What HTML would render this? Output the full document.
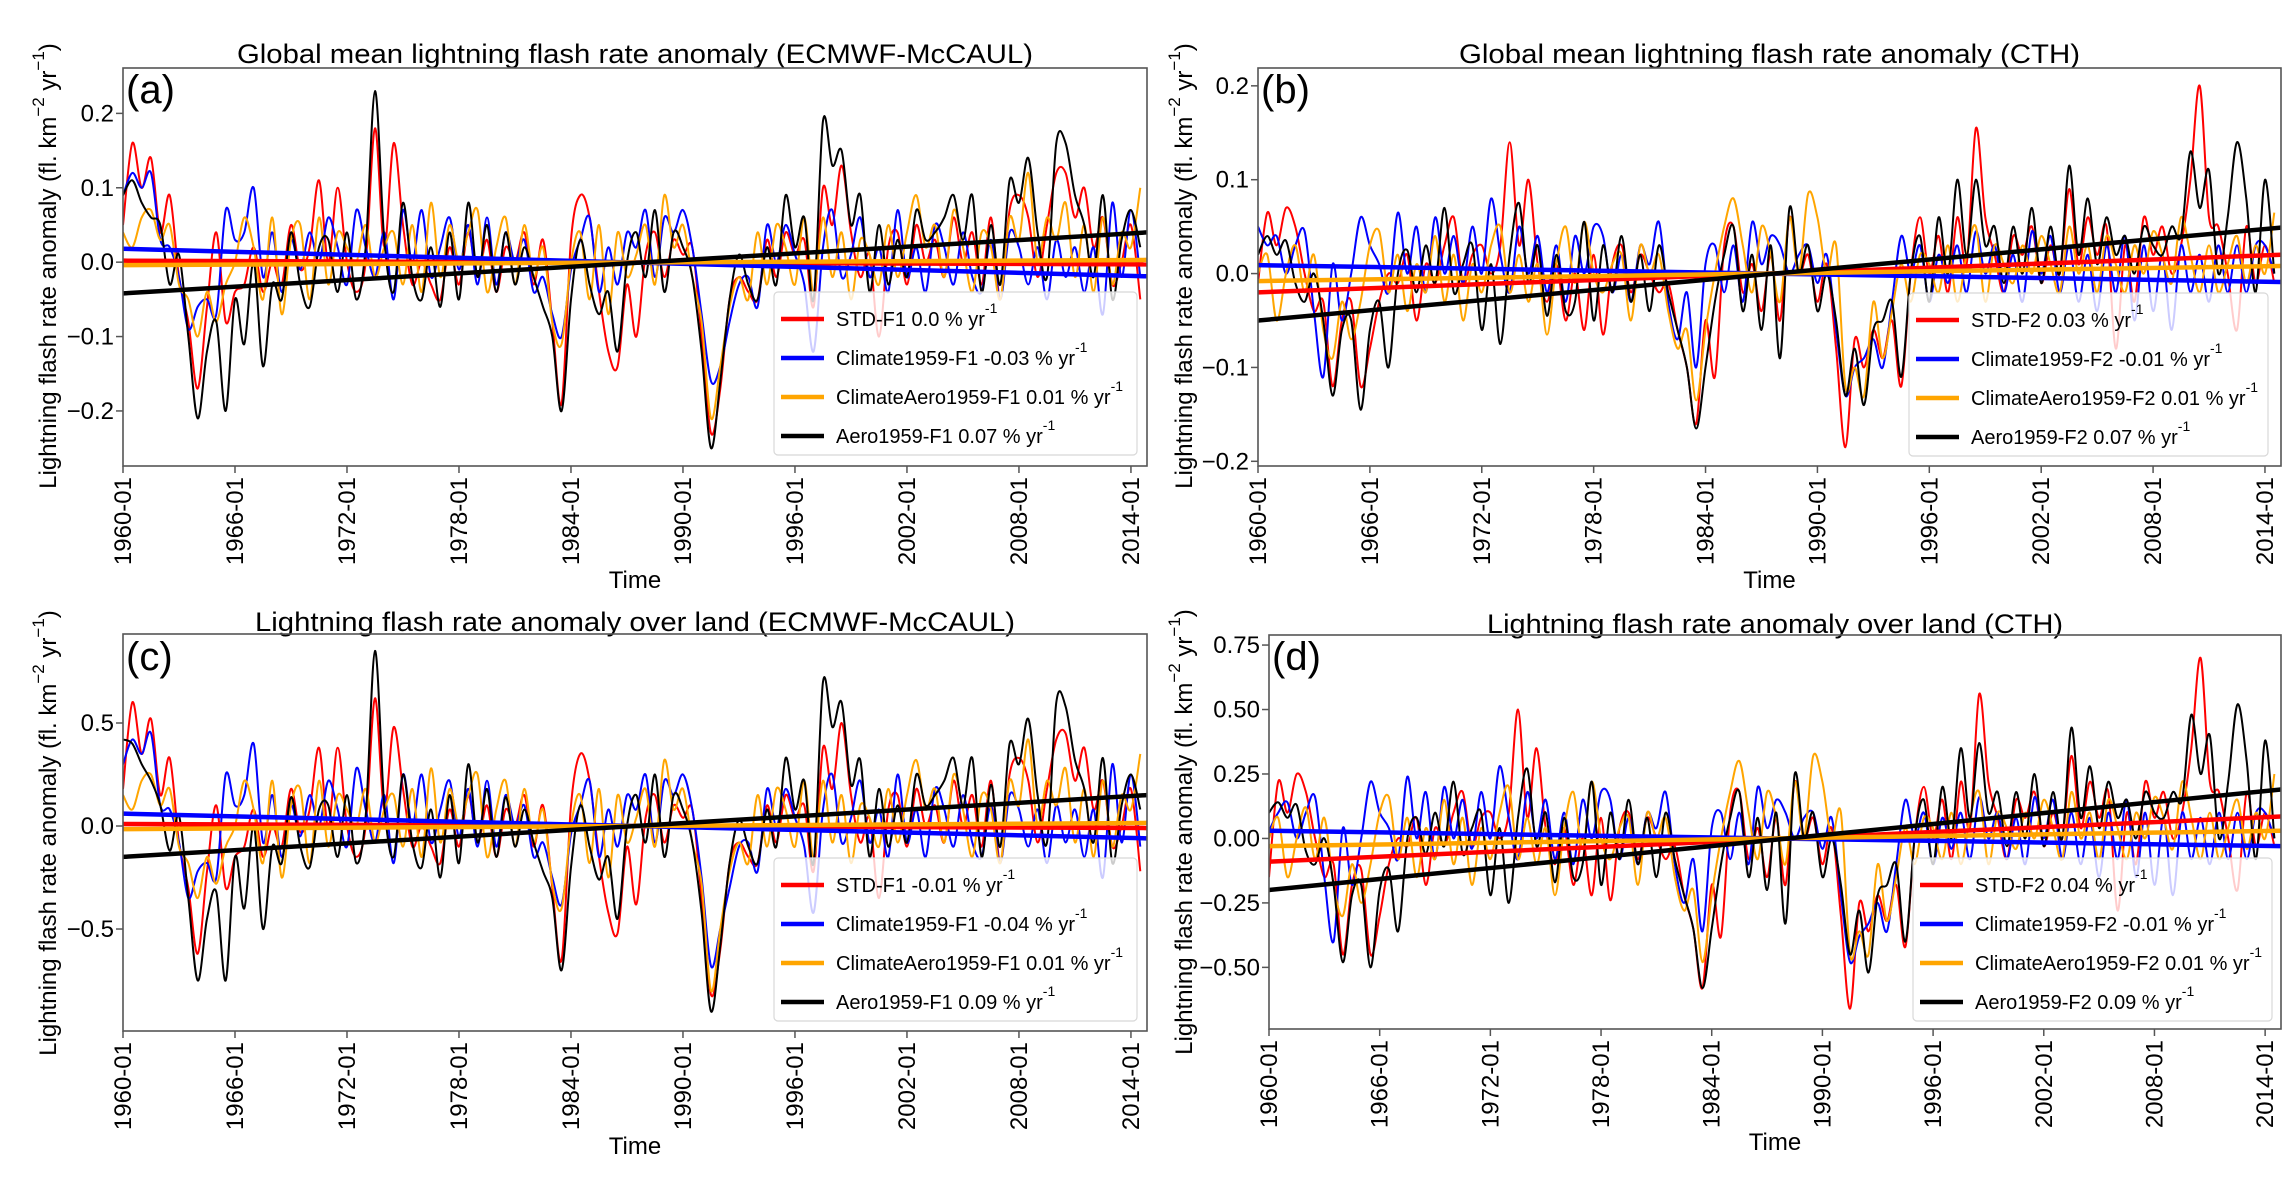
<!DOCTYPE html>
<html><head><meta charset="utf-8"><style>
html,body{margin:0;padding:0;background:#fff;}
svg{display:block;font-family:"Liberation Sans",Arial,sans-serif;}
</style></head><body>
<svg id="fig" width="2296" height="1179" viewBox="0 0 2296 1179" xmlns="http://www.w3.org/2000/svg"></svg>
<script>
const years = ["1960-01","1966-01","1972-01","1978-01","1984-01","1990-01","1996-01","2002-01","2008-01","2014-01"];
const tickYears = [1960,1966,1972,1978,1984,1990,1996,2002,2008,2014];
const seriesNames = ["red","blue","orange","black"];
const colors = ["#ff0000","#0000ff","#ffa500","#000000"];

const aRed = [0.05,0.16,0.10,0.14,0.04,0.09,-0.02,-0.08,-0.17,-0.06,0.04,-0.08,-0.04,-0.03,0.02,-0.04,0.0,-0.03,0.05,-0.01,0.02,0.11,0.0,0.10,0.0,-0.04,0.0,0.18,0.02,0.16,0.05,-0.03,0.0,-0.03,-0.05,0.02,-0.03,0.04,-0.02,0.03,-0.04,0.02,0.0,0.04,-0.03,0.03,-0.08,-0.19,0.03,0.09,0.06,-0.04,-0.12,-0.14,-0.03,-0.10,0.01,0.04,-0.02,0.03,0.01,0.02,-0.10,-0.23,-0.17,-0.05,-0.02,-0.04,-0.05,0.03,-0.02,0.04,0.01,0.03,-0.06,0.10,0.05,0.13,0.04,-0.02,0.01,-0.10,0.02,0.04,-0.03,0.05,0.0,0.03,-0.02,0.06,0.0,0.04,-0.03,0.06,-0.05,0.07,0.09,0.06,-0.02,0.05,0.12,0.12,0.06,0.10,0.02,0.06,-0.03,0.0,0.05,-0.05];
const aBlue = [0.09,0.12,0.10,0.12,0.03,0.02,-0.02,-0.09,-0.06,-0.05,-0.07,0.07,0.03,0.04,0.10,-0.02,0.04,-0.04,0.03,-0.01,0.04,0.0,0.06,0.02,-0.03,0.07,0.02,-0.02,0.04,-0.05,0.07,0.0,0.07,-0.02,0.02,0.06,-0.01,0.05,-0.03,0.06,-0.03,0.04,0.0,0.03,-0.04,-0.02,-0.07,-0.10,-0.01,0.03,0.06,-0.04,0.02,-0.03,0.04,0.02,0.07,-0.02,0.06,0.04,0.07,0.02,-0.07,-0.16,-0.14,-0.08,-0.03,-0.02,-0.06,0.05,0.0,0.05,0.01,-0.03,-0.12,0.02,0.07,-0.02,0.01,0.06,-0.02,0.02,-0.04,0.07,-0.02,0.02,-0.04,0.05,0.02,-0.03,0.04,-0.02,-0.04,0.03,-0.05,0.04,0.02,-0.03,0.02,-0.05,0.03,-0.02,0.02,-0.04,0.02,-0.07,0.08,-0.02,0.07,-0.02];
const aOrange = [0.04,0.02,0.06,0.07,0.03,0.05,-0.03,-0.05,-0.10,-0.04,-0.08,-0.03,0.0,0.06,0.02,-0.05,0.06,-0.07,0.03,0.05,-0.05,0.06,-0.03,0.04,0.02,0.0,0.05,-0.02,0.02,0.04,-0.03,0.05,-0.04,0.08,-0.02,0.05,0.0,0.04,0.07,-0.04,0.02,0.06,-0.03,0.05,-0.02,0.02,-0.08,-0.11,0.0,0.04,-0.05,0.05,-0.07,0.04,-0.02,0.01,0.05,-0.03,0.09,0.02,0.05,-0.02,-0.08,-0.21,-0.14,-0.06,-0.02,-0.05,0.04,-0.03,0.05,0.02,-0.03,0.06,-0.04,0.06,-0.02,0.04,-0.05,0.03,0.01,-0.03,0.05,-0.02,0.04,0.09,0.02,0.05,-0.02,0.07,0.02,-0.04,0.04,0.02,-0.05,0.06,0.03,0.12,0.0,0.06,0.03,0.08,-0.02,0.05,-0.04,0.06,-0.03,0.04,0.02,0.10];
const aBlack = [0.09,0.11,0.08,0.06,0.05,-0.03,0.01,-0.10,-0.21,-0.12,-0.08,-0.20,-0.05,-0.11,0.0,-0.14,-0.03,-0.05,0.04,-0.03,-0.06,0.02,0.03,-0.04,0.04,-0.05,0.02,0.23,0.03,-0.04,0.08,-0.02,-0.05,0.02,-0.06,0.04,-0.05,0.08,-0.02,0.05,-0.04,0.04,-0.03,0.02,-0.02,-0.06,-0.10,-0.20,-0.05,0.03,-0.03,-0.07,-0.04,-0.12,0.0,0.04,-0.02,0.07,-0.04,0.04,0.02,-0.02,-0.12,-0.25,-0.16,-0.05,0.01,-0.03,-0.05,0.02,-0.03,0.09,0.02,0.06,-0.05,0.19,0.13,0.15,0.05,0.09,-0.04,0.05,-0.03,0.03,-0.02,0.07,0.03,0.04,0.06,0.09,0.03,0.09,-0.04,0.05,-0.03,0.11,0.08,0.14,0.04,-0.02,0.16,0.16,0.09,0.05,-0.02,0.09,-0.05,0.03,0.07,0.02];

const bRed = [-0.01,0.065,0.03,0.07,0.05,0.0,-0.04,-0.03,-0.12,-0.05,-0.03,-0.12,-0.08,-0.03,0.0,-0.01,0.02,-0.05,0.01,-0.01,0.03,0.06,-0.01,0.02,0.03,0.0,0.03,0.14,0.03,0.10,0.01,-0.03,0.01,-0.05,0.0,-0.06,0.02,-0.065,0.01,0.03,-0.02,0.02,0.0,-0.02,-0.01,-0.06,-0.10,-0.16,-0.05,-0.11,0.03,0.05,-0.02,0.01,-0.04,0.02,-0.05,0.06,0.0,0.02,-0.03,0.01,-0.08,-0.185,-0.07,-0.10,-0.06,-0.09,-0.05,-0.12,0.0,0.06,0.0,0.04,-0.02,0.06,0.01,0.155,0.06,0.02,-0.02,0.04,0.02,0.05,-0.01,0.03,0.0,0.09,0.01,0.06,0.02,0.05,-0.08,0.03,-0.03,0.06,0.02,0.05,0.0,0.03,0.10,0.20,0.06,0.05,0.0,-0.06,0.05,-0.01,0.03,-0.01];
const bBlue = [0.05,0.03,0.04,0.0,0.03,0.045,-0.04,-0.11,0.01,-0.05,0.0,0.06,0.03,0.01,-0.02,0.065,0.0,0.05,-0.02,0.06,0.0,0.04,-0.01,0.05,0.0,0.08,0.02,-0.02,0.05,0.0,0.04,-0.02,0.03,-0.03,0.04,0.0,0.05,0.04,-0.02,0.02,-0.03,0.03,0.01,0.055,-0.03,-0.07,-0.02,-0.10,0.01,0.03,-0.02,0.03,-0.03,0.055,0.01,0.04,0.03,0.0,0.02,0.03,-0.01,0.02,-0.06,-0.13,-0.10,-0.09,-0.07,-0.10,-0.03,0.04,0.0,0.03,-0.03,0.02,-0.01,0.03,-0.02,0.045,0.0,0.03,-0.02,0.02,-0.03,0.045,0.0,0.04,-0.02,0.03,-0.03,0.02,-0.04,0.03,-0.02,0.04,-0.05,0.03,-0.04,0.02,-0.06,0.03,-0.02,0.02,-0.03,0.03,-0.02,0.03,-0.02,0.03,0.03,0.0];
const bOrange = [0.0,0.02,-0.05,0.0,0.03,-0.02,0.02,-0.06,-0.09,-0.03,-0.07,-0.03,0.03,0.045,-0.02,0.02,-0.04,0.01,-0.02,0.04,-0.03,0.02,-0.05,0.01,-0.02,0.03,0.05,-0.02,0.02,-0.03,0.01,-0.065,0.01,0.05,-0.01,0.055,0.0,-0.02,0.01,0.02,-0.05,0.03,0.0,0.02,-0.04,-0.08,-0.06,-0.135,-0.06,0.0,0.05,0.08,0.03,-0.02,0.05,0.02,-0.03,0.06,0.0,0.085,0.06,0.0,0.03,-0.12,-0.10,-0.13,-0.03,-0.09,-0.04,0.01,-0.03,0.02,0.01,-0.02,0.03,-0.03,0.02,0.05,-0.03,0.03,0.01,-0.01,0.03,0.0,0.04,0.01,-0.02,0.05,0.0,0.03,-0.02,0.04,0.01,-0.02,0.03,0.0,0.045,0.02,-0.01,0.06,0.02,-0.02,0.03,-0.02,0.01,0.04,-0.01,0.03,0.0,0.065];
const bBlack = [0.02,0.04,0.02,0.035,-0.01,-0.03,0.0,-0.05,-0.13,-0.06,-0.05,-0.145,-0.06,-0.03,-0.10,0.0,0.025,-0.02,0.03,-0.01,0.07,-0.02,0.01,0.03,-0.06,0.01,-0.075,0.02,0.075,-0.01,0.03,-0.045,0.02,-0.04,-0.03,0.055,-0.05,0.03,-0.02,0.04,-0.03,0.02,-0.04,0.03,-0.02,-0.06,-0.10,-0.165,-0.10,-0.03,0.02,0.05,-0.04,0.02,-0.06,0.03,-0.09,0.07,0.0,0.03,-0.04,0.0,-0.05,-0.13,-0.08,-0.14,-0.06,-0.05,-0.03,-0.11,0.0,0.04,-0.03,0.06,0.0,0.10,0.02,0.10,0.03,0.05,-0.01,0.05,0.0,0.07,-0.01,0.05,0.0,0.115,0.02,0.08,0.01,0.06,0.02,0.04,0.0,0.05,0.03,0.02,0.05,0.04,0.13,0.07,0.11,0.0,0.06,0.14,0.08,-0.02,0.10,0.0];

const cRed = [0.18,0.60,0.35,0.52,0.15,0.33,-0.08,-0.30,-0.62,-0.22,0.10,-0.30,-0.15,-0.10,0.08,-0.15,0.0,-0.10,0.18,-0.03,0.08,0.38,0.0,0.38,0.0,-0.15,0.0,0.62,0.08,0.48,0.18,-0.10,0.0,-0.10,-0.18,0.08,-0.10,0.15,-0.08,0.10,-0.15,0.08,0.0,0.15,-0.10,0.10,-0.30,-0.65,0.10,0.35,0.22,-0.15,-0.42,-0.52,-0.10,-0.38,0.04,0.15,-0.08,0.10,0.04,0.08,-0.35,-0.82,-0.60,-0.18,-0.08,-0.15,-0.18,0.10,-0.08,0.15,0.04,0.10,-0.22,0.38,0.18,0.50,0.15,-0.08,0.04,-0.35,0.08,0.15,-0.10,0.18,0.0,0.10,-0.08,0.22,0.0,0.15,-0.10,0.22,-0.18,0.25,0.33,0.22,-0.08,0.18,0.42,0.45,0.22,0.38,0.08,0.22,-0.10,0.0,0.18,-0.22];
const cBlue = [0.30,0.42,0.35,0.45,0.10,0.08,-0.08,-0.35,-0.22,-0.18,-0.25,0.25,0.10,0.15,0.40,-0.08,0.15,-0.15,0.10,-0.05,0.15,0.0,0.22,0.08,-0.10,0.28,0.08,-0.08,0.15,-0.18,0.25,0.0,0.25,-0.08,0.08,0.22,-0.05,0.18,-0.10,0.22,-0.10,0.15,0.0,0.10,-0.15,-0.08,-0.25,-0.38,-0.04,0.10,0.22,-0.15,0.08,-0.10,0.15,0.08,0.25,-0.08,0.22,0.15,0.25,0.08,-0.25,-0.68,-0.50,-0.30,-0.10,-0.08,-0.22,0.18,0.0,0.18,0.04,-0.10,-0.42,0.08,0.25,-0.08,0.04,0.22,-0.08,0.08,-0.15,0.25,-0.08,0.08,-0.15,0.18,0.08,-0.10,0.15,-0.08,-0.15,0.10,-0.18,0.15,0.08,-0.10,0.08,-0.18,0.10,-0.08,0.08,-0.15,0.08,-0.25,0.30,-0.08,0.25,-0.10];
const cOrange = [0.15,0.08,0.22,0.25,0.10,0.18,-0.10,-0.18,-0.35,-0.15,-0.28,-0.10,0.0,0.22,0.08,-0.18,0.22,-0.25,0.10,0.18,-0.18,0.22,-0.10,0.15,0.08,0.0,0.18,-0.08,0.08,0.15,-0.10,0.18,-0.15,0.28,-0.08,0.18,0.0,0.15,0.25,-0.15,0.08,0.22,-0.10,0.18,-0.08,0.08,-0.28,-0.40,0.0,0.15,-0.18,0.18,-0.25,0.15,-0.08,0.04,0.18,-0.10,0.32,0.08,0.18,-0.08,-0.28,-0.80,-0.50,-0.22,-0.08,-0.18,0.15,-0.10,0.18,0.08,-0.10,0.22,-0.15,0.22,-0.08,0.15,-0.18,0.10,0.04,-0.10,0.18,-0.08,0.15,0.32,0.08,0.18,-0.08,0.25,0.08,-0.15,0.15,0.08,-0.18,0.22,0.10,0.42,0.0,0.22,0.10,0.28,-0.08,0.18,-0.15,0.22,-0.10,0.15,0.08,0.35];
const cBlack = [0.42,0.40,0.30,0.22,0.10,-0.12,0.05,-0.35,-0.75,-0.45,-0.32,-0.75,-0.15,-0.40,0.0,-0.50,-0.10,-0.18,0.14,-0.10,-0.20,0.08,0.10,-0.15,0.15,-0.18,0.05,0.85,0.10,-0.15,0.25,-0.08,-0.20,0.08,-0.25,0.15,-0.18,0.30,-0.08,0.18,-0.15,0.14,-0.10,0.08,-0.08,-0.22,-0.35,-0.70,-0.20,0.10,-0.10,-0.26,-0.15,-0.45,0.0,0.15,-0.08,0.25,-0.15,0.15,0.08,-0.08,-0.42,-0.90,-0.58,-0.18,0.03,-0.10,-0.18,0.08,-0.10,0.33,0.08,0.22,-0.18,0.70,0.48,0.60,0.20,0.32,-0.15,0.18,-0.10,0.10,-0.08,0.25,0.10,0.15,0.22,0.33,0.10,0.33,-0.15,0.20,-0.10,0.40,0.30,0.52,0.15,-0.08,0.60,0.58,0.32,0.18,-0.08,0.33,-0.18,0.10,0.25,0.08];

const dRed = [-0.15,0.22,0.10,0.25,0.18,0.0,-0.15,-0.10,-0.45,-0.18,-0.12,-0.45,-0.30,-0.10,0.0,-0.03,0.08,-0.18,0.04,-0.03,0.10,0.18,-0.03,0.08,0.10,0.0,0.10,0.50,0.08,0.35,0.04,-0.10,0.04,-0.18,0.0,-0.22,0.08,-0.24,0.04,0.10,-0.08,0.08,0.0,-0.08,-0.03,-0.22,-0.35,-0.58,-0.18,-0.38,0.10,0.18,-0.08,0.04,-0.15,0.08,-0.18,0.22,0.0,0.08,-0.10,0.04,-0.30,-0.66,-0.25,-0.36,-0.22,-0.32,-0.18,-0.42,0.0,0.20,0.0,0.15,-0.08,0.22,0.04,0.56,0.22,0.08,-0.08,0.15,0.08,0.18,-0.03,0.10,0.0,0.32,0.04,0.22,0.08,0.18,-0.28,0.10,-0.10,0.22,0.08,0.18,0.0,0.10,0.35,0.70,0.22,0.18,0.0,-0.20,0.18,-0.03,0.10,-0.03];
const dBlue = [0.03,0.10,0.14,0.0,0.10,0.16,-0.15,-0.40,0.04,-0.18,0.0,0.22,0.10,0.04,-0.08,0.24,0.0,0.18,-0.08,0.20,0.0,0.15,-0.04,0.18,0.0,0.28,0.08,-0.08,0.18,0.0,0.15,-0.08,0.10,-0.10,0.15,0.0,0.18,0.15,-0.08,0.08,-0.10,0.10,0.04,0.18,-0.10,-0.25,-0.08,-0.36,0.04,0.10,-0.08,0.10,-0.10,0.20,0.04,0.15,0.10,0.0,0.08,0.10,-0.04,0.08,-0.22,-0.48,-0.38,-0.33,-0.25,-0.36,-0.10,0.15,0.0,0.10,-0.10,0.08,-0.04,0.10,-0.08,0.16,0.0,0.10,-0.08,0.08,-0.10,0.16,0.0,0.15,-0.08,0.10,-0.10,0.08,-0.15,0.10,-0.08,0.15,-0.15,0.10,-0.18,0.08,-0.22,0.10,-0.08,0.08,-0.10,0.10,-0.08,0.10,-0.08,0.10,0.10,0.0];
const dOrange = [0.0,0.08,-0.15,0.0,0.12,-0.08,0.08,-0.18,-0.30,-0.10,-0.25,-0.10,0.10,0.16,-0.08,0.08,-0.15,0.04,-0.08,0.15,-0.10,0.08,-0.18,0.04,-0.08,0.10,0.20,-0.08,0.08,-0.10,0.04,-0.22,0.04,0.18,-0.04,0.22,0.0,-0.08,0.04,0.08,-0.18,0.10,0.0,0.08,-0.15,-0.28,-0.20,-0.48,-0.22,0.0,0.18,0.30,0.10,-0.08,0.18,0.08,-0.10,0.22,0.0,0.32,0.22,0.0,0.10,-0.45,-0.36,-0.45,-0.10,-0.32,-0.15,0.04,-0.10,0.08,0.04,-0.08,0.10,-0.10,0.08,0.18,-0.10,0.10,0.04,-0.04,0.10,0.0,0.15,0.04,-0.08,0.18,0.0,0.10,-0.08,0.15,0.04,-0.08,0.10,0.0,0.16,0.08,-0.04,0.22,0.08,-0.08,0.10,-0.08,0.04,0.15,-0.04,0.10,0.0,0.25];
const dBlack = [0.10,0.14,0.08,0.13,-0.05,-0.10,0.0,-0.18,-0.48,-0.22,-0.18,-0.50,-0.20,-0.12,-0.36,0.0,0.08,-0.06,0.10,-0.03,0.22,-0.06,0.04,0.10,-0.22,0.04,-0.25,0.08,0.27,-0.03,0.10,-0.17,0.08,-0.15,-0.10,0.22,-0.18,0.10,-0.08,0.15,-0.10,0.08,-0.15,0.10,-0.08,-0.22,-0.35,-0.58,-0.35,-0.10,0.08,0.18,-0.15,0.08,-0.20,0.10,-0.33,0.25,0.0,0.10,-0.15,0.0,-0.18,-0.45,-0.28,-0.52,-0.22,-0.18,-0.10,-0.40,0.0,0.15,-0.10,0.20,0.0,0.35,0.08,0.37,0.10,0.18,-0.03,0.18,0.0,0.25,-0.03,0.18,0.0,0.43,0.08,0.28,0.04,0.22,0.08,0.15,0.0,0.18,0.10,0.08,0.18,0.15,0.48,0.25,0.40,0.0,0.22,0.52,0.30,-0.08,0.38,0.0];

const aTrendStart = [0.002,0.018,-0.004,-0.042];
const aTrendEnd = [-0.003,-0.019,0.003,0.040];
const bTrendStart = [-0.020,0.009,-0.008,-0.050];
const bTrendEnd = [0.020,-0.009,0.008,0.049];
const cTrendStart = [0.010,0.060,-0.015,-0.150];
const cTrendEnd = [-0.010,-0.060,0.015,0.150];
const dTrendStart = [-0.090,0.030,-0.030,-0.200];
const dTrendEnd = [0.085,-0.030,0.030,0.190];

const aLegend = ["STD-F1 0.0 % yr","Climate1959-F1 -0.03 % yr","ClimateAero1959-F1 0.01 % yr","Aero1959-F1 0.07 % yr"];
const bLegend = ["STD-F2 0.03 % yr","Climate1959-F2 -0.01 % yr","ClimateAero1959-F2 0.01 % yr","Aero1959-F2 0.07 % yr"];
const cLegend = ["STD-F1 -0.01 % yr","Climate1959-F1 -0.04 % yr","ClimateAero1959-F1 0.01 % yr","Aero1959-F1 0.09 % yr"];
const dLegend = ["STD-F2 0.04 % yr","Climate1959-F2 -0.01 % yr","ClimateAero1959-F2 0.01 % yr","Aero1959-F2 0.09 % yr"];

const aYTicks = [-0.2,-0.1,0,0.1,0.2];
const aYLabels = ["\u22120.2","\u22120.1","0.0","0.1","0.2"];
const bYTicks = [-0.2,-0.1,0,0.1,0.2];
const bYLabels = ["\u22120.2","\u22120.1","0.0","0.1","0.2"];
const cYTicks = [-0.5,0,0.5];
const cYLabels = ["\u22120.5","0.0","0.5"];
const dYTicks = [-0.5,-0.25,0,0.25,0.5,0.75];
const dYLabels = ["\u22120.50","\u22120.25","0.00","0.25","0.50","0.75"];

const NS = "http://www.w3.org/2000/svg";
const svg = document.getElementById("fig");
function mk(tag, attrs, parent){
  const e = document.createElementNS(NS, tag);
  for (const k in attrs) e.setAttribute(k, attrs[k]);
  (parent||svg).appendChild(e);
  return e;
}
function smoothPath(pts){
  let d = "M"+pts[0][0].toFixed(1)+","+pts[0][1].toFixed(1);
  for (let i=0;i<pts.length-1;i++){
    const p0=pts[Math.max(0,i-1)], p1=pts[i], p2=pts[i+1], p3=pts[Math.min(pts.length-1,i+2)];
    const c1x=p1[0]+(p2[0]-p0[0])/6, c1y=p1[1]+(p2[1]-p0[1])/6;
    const c2x=p2[0]-(p3[0]-p1[0])/6, c2y=p2[1]-(p3[1]-p1[1])/6;
    d += "C"+c1x.toFixed(1)+","+c1y.toFixed(1)+" "+c2x.toFixed(1)+","+c2y.toFixed(1)+" "+p2[0].toFixed(1)+","+p2[1].toFixed(1);
  }
  return d;
}

const panels = [
  {id:"a", L:123,R:1147,T:68,B:466, ymin:-0.274,ymax:0.261, yt:aYTicks, yl:aYLabels, series:[aRed,aBlue,aOrange,aBlack], ts:aTrendStart, te:aTrendEnd, leg:aLegend,
   title:"Global mean lightning flash rate anomaly (ECMWF-McCAUL)", tw:796, ty:53, lx:774, ly:292, ylx:48, ylc:266, timeY:588, letter:"(a)", letY:103},
  {id:"b", L:1258,R:2281,T:68,B:466, ymin:-0.205,ymax:0.219, yt:bYTicks, yl:bYLabels, series:[bRed,bBlue,bOrange,bBlack], ts:bTrendStart, te:bTrendEnd, leg:bLegend,
   title:"Global mean lightning flash rate anomaly (CTH)", tw:621, ty:53, lx:1909, ly:293, ylx:1184, ylc:266, timeY:588, letter:"(b)", letY:103},
  {id:"c", L:123,R:1147,T:634,B:1031, ymin:-0.995,ymax:0.932, yt:cYTicks, yl:cYLabels, series:[cRed,cBlue,cOrange,cBlack], ts:cTrendStart, te:cTrendEnd, leg:cLegend,
   title:"Lightning flash rate anomaly over land (ECMWF-McCAUL)", tw:760, ty:621, lx:774, ly:858, ylx:48, ylc:833, timeY:1154, letter:"(c)", letY:670},
  {id:"d", L:1269,R:2281,T:635,B:1029, ymin:-0.739,ymax:0.789, yt:dYTicks, yl:dYLabels, series:[dRed,dBlue,dOrange,dBlack], ts:dTrendStart, te:dTrendEnd, leg:dLegend,
   title:"Lightning flash rate anomaly over land (CTH)", tw:576, ty:623, lx:1913, ly:858, ylx:1184, ylc:832, timeY:1150, letter:"(d)", letY:670}
];
const X0 = 1960, X1 = 2014.86;

panels.forEach(p=>{
  const g = mk("g",{});
  
  
  const xs = yr => p.L + (yr - X0)/(X1 - X0)*(p.R - p.L);
  const ys = v => p.B - (v - p.ymin)/(p.ymax - p.ymin)*(p.B - p.T);

  const cp = mk("clipPath",{id:"clip-"+p.id}, g);
  mk("rect",{x:p.L,y:p.T,width:p.R-p.L,height:p.B-p.T}, cp);

  const t = mk("text",{x:(p.L+p.R)/2,y:p.ty+10,"text-anchor":"middle","font-size":27,textLength:p.tw,lengthAdjust:"spacingAndGlyphs",fill:"#000"}, g);
  t.textContent = p.title;
  
  

  const plot = mk("g",{"clip-path":"url(#clip-"+p.id+")"}, g);
  
  
  p.series.forEach((s,si)=>{
    const pts = s.map((v,i)=>[xs(X0 + i*0.5), ys(v)]);
    const path = mk("path",{d:smoothPath(pts),fill:"none",stroke:colors[si],"stroke-width":2,"stroke-linejoin":"round"}, plot);
    
    
  });
  p.ts.forEach((v,si)=>{
    const ln = mk("line",{x1:xs(X0),y1:ys(v),x2:xs(X1),y2:ys(p.te[si]),stroke:colors[si],"stroke-width":4.5}, plot);
    
    
  });

  const frame = mk("rect",{x:p.L,y:p.T,width:p.R-p.L,height:p.B-p.T,fill:"none",stroke:"#555","stroke-width":1.6}, g);
  
  

  p.yt.forEach((v,i)=>{
    const y = ys(v);
    const tk = mk("line",{x1:p.L-7,x2:p.L,y1:y,y2:y,stroke:"#555","stroke-width":1.5}, g);
    
    
    const lb = mk("text",{x:p.L-9,y:y+8,"text-anchor":"end","font-size":24,fill:"#000"}, g);
    lb.textContent = p.yl[i];
    
    
  });
  tickYears.forEach((yv,i)=>{
    const x = xs(yv);
    const tk = mk("line",{x1:x,x2:x,y1:p.B,y2:p.B+7,stroke:"#555","stroke-width":1.5}, g);
    
    
    const lb = mk("text",{x:0,y:0,"text-anchor":"end","font-size":24,fill:"#000",transform:"translate("+(x+8)+","+(p.B+11)+") rotate(-90)"}, g);
    lb.textContent = years[i];
    
    
  });

  const xl = mk("text",{x:(p.L+p.R)/2,y:p.timeY,"text-anchor":"middle","font-size":24,fill:"#000"}, g);
  xl.textContent = "Time";
  
  

  const yl = mk("text",{x:0,y:0,"text-anchor":"middle","font-size":24,fill:"#000",transform:"translate("+(p.ylx+8)+","+p.ylc+") rotate(-90)"}, g);
  
  
  yl.innerHTML = 'Lightning flash rate anomaly (fl. km<tspan dy="-12" font-size="17">\u22122</tspan><tspan dy="12"> yr</tspan><tspan dy="-12" font-size="17">\u22121</tspan><tspan dy="12">)</tspan>';

  const letter = mk("text",{x:p.L+3,y:p.letY,"font-size":40,fill:"#000"}, g);
  letter.textContent = p.letter;
  
  

  const lg = mk("g",{}, g);
  
  
  const lw = p.id==="a"||p.id==="c" ? 363 : 359;
  mk("rect",{x:p.lx,y:p.ly,width:lw,height:163,rx:4,fill:"#fff","fill-opacity":0.8,stroke:"#d8d8d8","stroke-width":1.2}, lg);
  p.leg.forEach((txt,i)=>{
    const y = p.ly + 27 + i*39;
    const e = mk("g",{}, lg);
    
    
    mk("line",{x1:p.lx+7,x2:p.lx+50,y1:y,y2:y,stroke:colors[i],"stroke-width":4.5}, e);
    const tx = mk("text",{x:p.lx+62,y:y+7,"font-size":20,fill:"#000"}, e);
    tx.innerHTML = txt.replace(/&/g,"&amp;") + '<tspan dy="-13" font-size="14">-1</tspan>';
  });
});
</script>
</body></html>
